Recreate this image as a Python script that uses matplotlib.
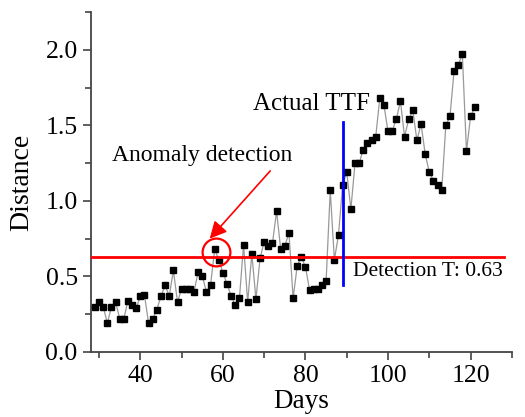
import matplotlib
matplotlib.use('Agg')
import matplotlib.pyplot as plt
from matplotlib.ticker import MultipleLocator

plt.rcParams['font.family'] = ['Liberation Serif', 'DejaVu Serif']

# 每天的距离值
days = list(range(29, 122))
distance = [0.30, 0.33, 0.30, 0.19, 0.30, 0.33, 0.22, 0.22, 0.34, 0.31,
            0.29, 0.37, 0.375, 0.19, 0.22, 0.28, 0.37, 0.44, 0.37, 0.54,
            0.33, 0.42, 0.42, 0.42, 0.40, 0.53, 0.50, 0.40, 0.44, 0.68,
            0.61, 0.525, 0.45, 0.37, 0.31, 0.355, 0.71, 0.33, 0.65, 0.35,
            0.62, 0.73, 0.70, 0.72, 0.93, 0.68, 0.70, 0.79, 0.355, 0.57,
            0.63, 0.56, 0.41, 0.42, 0.415, 0.44, 0.47, 1.07, 0.61, 0.775,
            1.105, 1.19, 0.945, 1.25, 1.25, 1.34, 1.385, 1.40, 1.42, 1.68,
            1.635, 1.46, 1.465, 1.54, 1.66, 1.425, 1.54, 1.60, 1.40, 1.51,
            1.31, 1.19, 1.135, 1.105, 1.07, 1.50, 1.56, 1.86, 1.90, 1.97,
            1.33, 1.56, 1.62]

threshold = 0.63
ttf_day = 89
anomaly_day = 58.4
anomaly_val = 0.66

fig = plt.figure(figsize=(5.25, 4.17), dpi=100)
ax = fig.add_axes([0.173, 0.156, 0.802, 0.815])

ax.plot(days, distance, color='#999999', lw=0.9, zorder=2)
ax.plot(days, distance, ls='none', marker='s', ms=5, color='black', zorder=3)

# 阈值线和实际TTF
ax.plot([28, 128], [threshold, threshold], color='red', lw=2, zorder=4)
ax.plot([ttf_day, ttf_day], [0.44, 1.52], color='blue', lw=2, zorder=4)

# 异常点圆圈
ax.plot([anomaly_day], [anomaly_val], marker='o', ms=20, mfc='none',
        mec='red', mew=1.6, zorder=5)
ax.annotate('Anomaly detection', xy=(56.8, 0.75), xytext=(33.2, 1.30),
            fontsize=17, va='center', ha='left',
            arrowprops=dict(arrowstyle='-|>,head_length=0.6,head_width=0.3',
                            color='red', lw=1.2,
                            shrinkA=2, shrinkB=0, relpos=(0.9, 0.0)))
ax.text(67.3, 1.64, 'Actual TTF', fontsize=18, va='center', ha='left')
ax.text(91.5, 0.53, 'Detection T: 0.63', fontsize=15.5, va='center', ha='left')

ax.set_xlim(28, 130)
ax.set_ylim(0, 2.25)
ax.xaxis.set_major_locator(MultipleLocator(20))
ax.xaxis.set_minor_locator(MultipleLocator(10))
ax.yaxis.set_major_locator(MultipleLocator(0.5))
ax.yaxis.set_minor_locator(MultipleLocator(0.25))
ax.yaxis.set_major_formatter(plt.FormatStrFormatter('%.1f'))

for s in ['top', 'right']:
    ax.spines[s].set_visible(False)
for s in ['left', 'bottom']:
    ax.spines[s].set_color('#444444')
    ax.spines[s].set_linewidth(1.3)
ax.tick_params(which='major', direction='out', length=6, width=1.2,
               color='#444444', labelsize=18.5)
ax.tick_params(which='minor', direction='out', length=4, width=1.2,
               color='#444444')

ax.set_xlabel('Days', fontsize=19.5, labelpad=1)
ax.set_ylabel('Distance', fontsize=20, labelpad=8)

fig.savefig('out.png', dpi=100)
